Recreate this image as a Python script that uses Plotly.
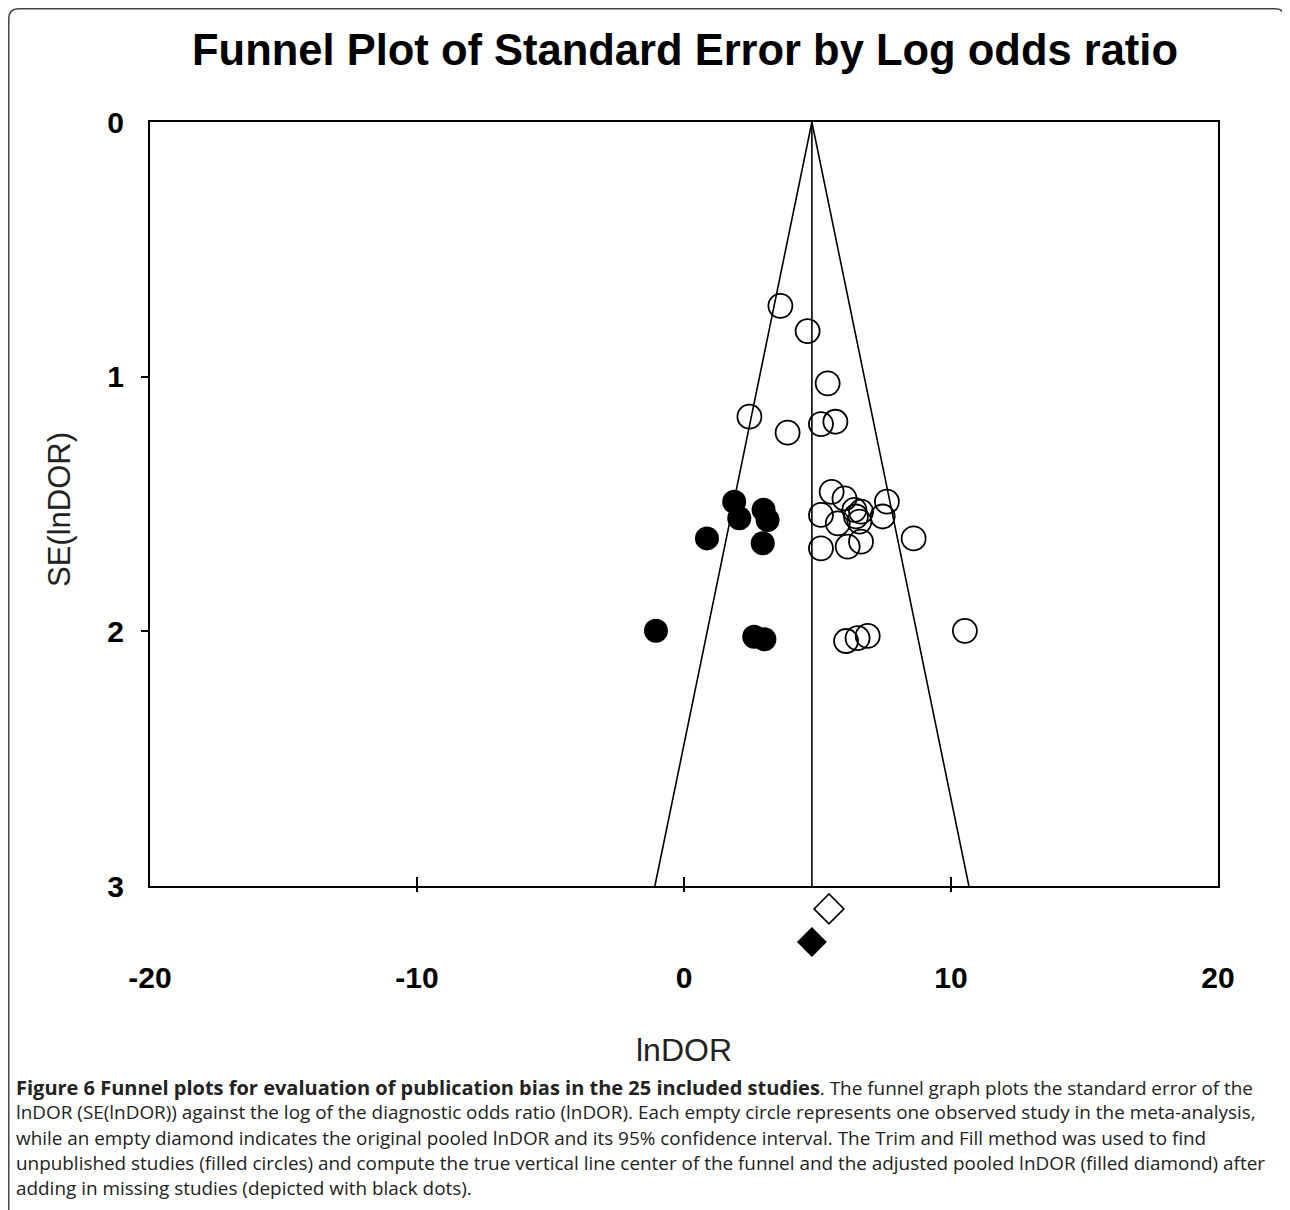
import plotly.graph_objects as go

# ---------------- data ----------------
obs_lndor = [3.61, 4.63, 5.38, 2.45, 3.88, 5.13, 5.67,
             5.53, 6.01, 7.60, 6.38, 6.63, 6.44, 5.13, 5.76, 6.57, 7.44,
             5.13, 6.13, 6.63, 8.60,
             10.52, 6.07, 6.50, 6.88]
obs_se = [0.722, 0.821, 1.026, 1.157, 1.220, 1.186, 1.177,
          1.452, 1.478, 1.491, 1.523, 1.530, 1.549, 1.543, 1.576, 1.569, 1.549,
          1.674, 1.667, 1.648, 1.635,
          1.998, 2.038, 2.027, 2.018]

imp_lndor = [1.88, 2.07, 2.98, 3.13, 0.86, 2.95, -1.05, 2.63, 3.01]
imp_se = [1.491, 1.556, 1.523, 1.563, 1.635, 1.654, 1.998, 2.021, 2.031]

pooled_obs = 5.43      # original pooled lnDOR (empty diamond)
pooled_adj = 4.79      # adjusted pooled lnDOR (filled diamond), funnel centre
diamond_obs_row = 3.09
diamond_adj_row = 3.22
se_max = 3.0
z95 = 1.96

x_ticks = [-20, -10, 0, 10, 20]
x_minor_ticks = [-10, 0, 10]
y_ticks = [0, 1, 2, 3]
y_minor_ticks = [1, 2]

title_text = "Funnel Plot of Standard Error by Log odds ratio"
x_title = "lnDOR"
y_title = "SE(lnDOR)"
caption_lines = [
    "<span style='font-size:20px'><b>Figure 6 Funnel plots for evaluation of publication bias in the 25 included studies</b></span>. The funnel graph plots the standard error of the",
    "lnDOR (SE(lnDOR)) against the log of the diagnostic odds ratio (lnDOR). Each empty circle represents one observed study in the meta-analysis,",
    "while an empty diamond indicates the original pooled lnDOR and its 95% confidence interval. The Trim and Fill method was used to find",
    "unpublished studies (filled circles) and compute the true vertical line center of the funnel and the adjusted pooled lnDOR (filled diamond) after",
    "adding in missing studies (depicted with black dots).",
]

# ---------------- layout geometry (page pixels) ----------------
W, H = 1290, 1210
OFF = 8                                   # page body margin
L, R, T, B = 150 - OFF, 1218 - OFF, 122 - OFF, 886 - OFF   # plot frame
BOT = 960 - OFF                           # bottom of plotting area (room for diamonds)


def px2paper(px, py):
    """reference-image pixel -> paper coordinates"""
    px -= OFF
    py -= OFF
    return (px - L) / (R - L), (BOT - py) / (BOT - T)


frame_dom0 = (BOT - B) / (BOT - T)
se_bottom = se_max * (BOT - T) / (B - T)

fig = go.Figure()

# funnel and centre line
fig.add_trace(go.Scatter(
    x=[pooled_adj - z95 * se_max, pooled_adj, pooled_adj + z95 * se_max],
    y=[se_max, 0, se_max], mode="lines",
    line=dict(color="black", width=1.6), showlegend=False, hoverinfo="skip"))
fig.add_trace(go.Scatter(
    x=[pooled_adj, pooled_adj], y=[0, se_max], mode="lines",
    line=dict(color="black", width=1.6), showlegend=False, hoverinfo="skip"))

# observed studies
fig.add_trace(go.Scatter(
    x=obs_lndor, y=obs_se, mode="markers",
    marker=dict(symbol="circle-open", size=24, color="black", line=dict(width=1.8)),
    showlegend=False))
# imputed studies
fig.add_trace(go.Scatter(
    x=imp_lndor, y=imp_se, mode="markers",
    marker=dict(symbol="circle", size=24, color="black", line=dict(width=0)),
    showlegend=False))
# pooled diamonds (below the frame)
fig.add_trace(go.Scatter(
    x=[pooled_obs], y=[diamond_obs_row], mode="markers", yaxis="y2", cliponaxis=False,
    marker=dict(symbol="diamond-open", size=23, color="black", line=dict(width=1.6)),
    showlegend=False))
fig.add_trace(go.Scatter(
    x=[pooled_adj], y=[diamond_adj_row], mode="markers", yaxis="y2", cliponaxis=False,
    marker=dict(symbol="diamond", size=23, color="black"),
    showlegend=False))

# dummy traces so that the tick-only overlay axes are drawn
fig.add_trace(go.Scatter(x=[None], y=[None], xaxis="x2", yaxis="y3", showlegend=False))
fig.add_trace(go.Scatter(x=[None], y=[None], xaxis="x3", yaxis="y3", showlegend=False))

tick_font = dict(family="Liberation Sans, Arial", size=30, color="black")
plain = dict(showgrid=False, zeroline=False)

fig.update_layout(
    width=W, height=H,
    margin=dict(l=L, r=W - R, t=T, b=H - BOT, pad=0),
    paper_bgcolor="white", plot_bgcolor="rgba(0,0,0,0)",
    title=dict(text="<b>" + title_text + "</b>", x=(685 - OFF) / W, xanchor="center",
               y=1 - (50 - OFF) / H, yanchor="middle",
               font=dict(family="Liberation Sans, Arial", size=43.5, color="black")),
    xaxis=dict(range=[-20, 20], tickvals=x_ticks, ticktext=[f"<b>{v}</b>" for v in x_ticks],
               ticks="", showline=True, mirror=True, anchor="y",
               linecolor="black", linewidth=2, tickfont=tick_font, ticklabelstandoff=64, **plain),
    yaxis=dict(range=[se_max, 0], domain=[frame_dom0, 1], tickvals=y_ticks,
               ticktext=[f"<b>{v}</b>" for v in y_ticks],
               ticks="", showline=True, mirror=True, anchor="x",
               linecolor="black", linewidth=2, tickfont=tick_font, ticklabelstandoff=18, **plain),
    yaxis2=dict(range=[se_bottom, 0], domain=[0, 1], visible=False, anchor="x", **plain),
    xaxis2=dict(range=[-20, 20], overlaying="x", anchor="y3", tickvals=x_minor_ticks,
                ticks="inside", ticklen=9, tickwidth=1.5, tickcolor="black",
                showticklabels=False, showline=False, **plain),
    xaxis3=dict(range=[-20, 20], overlaying="x", anchor="y3", tickvals=x_minor_ticks,
                ticks="outside", ticklen=5, tickwidth=1.5, tickcolor="black",
                showticklabels=False, showline=False, **plain),
    yaxis3=dict(range=[se_max, 0], overlaying="y", anchor="x", tickvals=y_minor_ticks,
                ticks="outside", ticklen=8, tickwidth=1.5, tickcolor="black",
                showticklabels=False, showline=False, **plain),
)

annotations = []
ax, ay = px2paper(684, 1050)
annotations.append(dict(text=x_title, x=ax, y=ay, xref="paper", yref="paper",
                        xanchor="center", yanchor="middle", showarrow=False,
                        font=dict(family="Liberation Sans, Arial", size=32, color="#222222")))
ax, ay = px2paper(60, 510)
annotations.append(dict(text=y_title, x=ax, y=ay, xref="paper", yref="paper",
                        xanchor="center", yanchor="middle", showarrow=False, textangle=-90,
                        font=dict(family="Liberation Sans, Arial", size=31, color="#222222")))
for i, line in enumerate(caption_lines):
    ax, ay = px2paper(14, 1087 + 25.3 * i)
    annotations.append(dict(text=line, x=ax, y=ay, xref="paper", yref="paper",
                            xanchor="left", yanchor="middle", showarrow=False,
                            font=dict(family="Open Sans", size=18.9, color="#222222")))
fig.update_layout(annotations=annotations)

# outer page border (top + left, rounded corners)
x0, y0 = px2paper(8.8, 8.8)
_, yb = px2paper(8.8, 1215)
xr, _ = px2paper(1285, 8.8)
_, yr = px2paper(1285, 30)
rx = 10 / (R - L)
ry = 10 / (BOT - T)
path = (f"M {x0} {yb} L {x0} {y0 - ry} Q {x0} {y0} {x0 + rx} {y0} "
        f"L {xr - rx} {y0} Q {xr} {y0} {xr} {y0 - ry} L {xr} {yr}")
fig.add_shape(type="path", path=path, xref="paper", yref="paper",
              line=dict(color="#444444", width=1.5))

fig.write_html("out.html")
